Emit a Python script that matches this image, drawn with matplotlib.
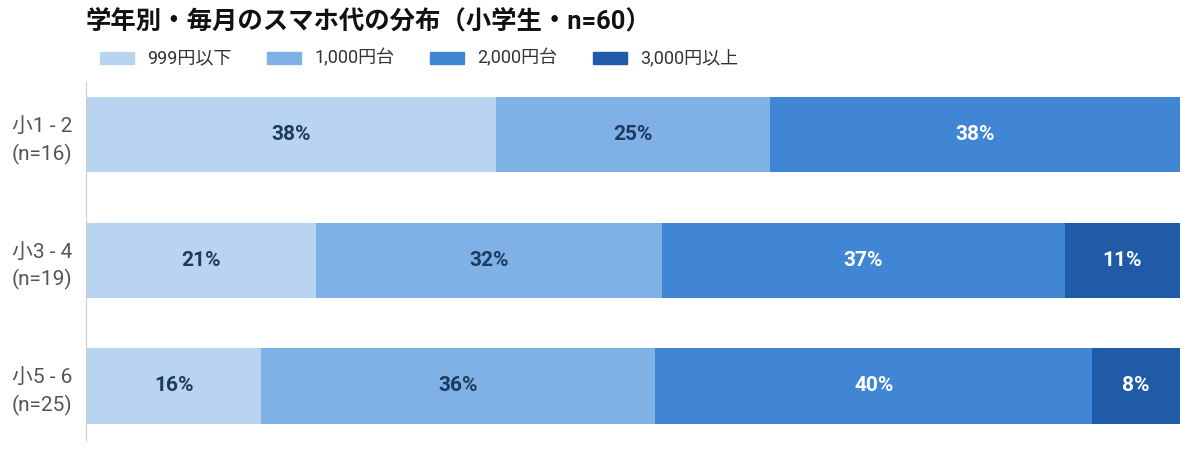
import matplotlib
matplotlib.use("Agg")
import matplotlib.pyplot as plt
from matplotlib.patches import Rectangle
import numpy as np

plt.rcParams['font.family'] = ['Roboto', 'Noto Sans CJK JP', 'DejaVu Sans']

# data (percent of each grade group)
groups = ["小1 - 2\n(n=16)", "小3 - 4\n(n=19)", "小5 - 6\n(n=25)"]
bands = ["999円以下", "1,000円台", "2,000円台", "3,000円以上"]
pct_999 = [37.5, 21.05, 16.0]
pct_1000 = [25.0, 31.58, 36.0]
pct_2000 = [37.5, 36.84, 40.0]
pct_3000 = [0.0, 10.53, 8.0]

colors = ["#B9D4F1", "#7FB1E6", "#4186D5", "#1F5BA6"]
text_colors = ["#1E3A5F", "#1E3A5F", "white", "white"]

fig = plt.figure(figsize=(11.89, 4.49), dpi=100)
ax = fig.add_axes([86 / 1189, 9 / 449, 1094 / 1189, 358 / 449])

series = [pct_999, pct_1000, pct_2000, pct_3000]
y = np.arange(len(groups))
left = np.zeros(len(groups))
for vals, col, tcol in zip(series, colors, text_colors):
    vals = np.array(vals)
    ax.barh(y, vals, left=left, height=0.6, color=col, edgecolor="none")
    for yi, (l, v) in enumerate(zip(left, vals)):
        if v > 0:
            ax.text(l + v / 2, yi, f"{v:.0f}%", ha="center", va="center",
                    fontsize=15, fontweight="bold", color=tcol)
    left += vals

ax.set_xlim(0, left.max())
ax.set_ylim(2.43, -0.42)
ax.set_yticks(y)
ax.set_yticklabels(groups, fontsize=15, color="#555555", linespacing=1.45)
ax.tick_params(axis="y", length=0, pad=10)
ax.set_xticks([])
for s in ["top", "right", "bottom"]:
    ax.spines[s].set_visible(False)
ax.spines["left"].set_color("#CCCCCC")

fig.text(86 / 1189, 1 - 21 / 449, "学年別・毎月のスマホ代の分布（小学生・n=60）",
         fontsize=18.3, fontweight="bold", va="center", ha="left", color="#111111")

# legend
leg_x = [100, 267, 430, 593]
for lx, lab, col in zip(leg_x, bands, colors):
    fig.patches.append(Rectangle((lx / 1189, 1 - 64 / 449), 34 / 1189, 12 / 449,
                                 transform=fig.transFigure, color=col))
    fig.text((lx + 47) / 1189, 1 - 58 / 449, lab, fontsize=13, va="center",
             ha="left", color="#333333")

fig.savefig("out.png", dpi=100)
